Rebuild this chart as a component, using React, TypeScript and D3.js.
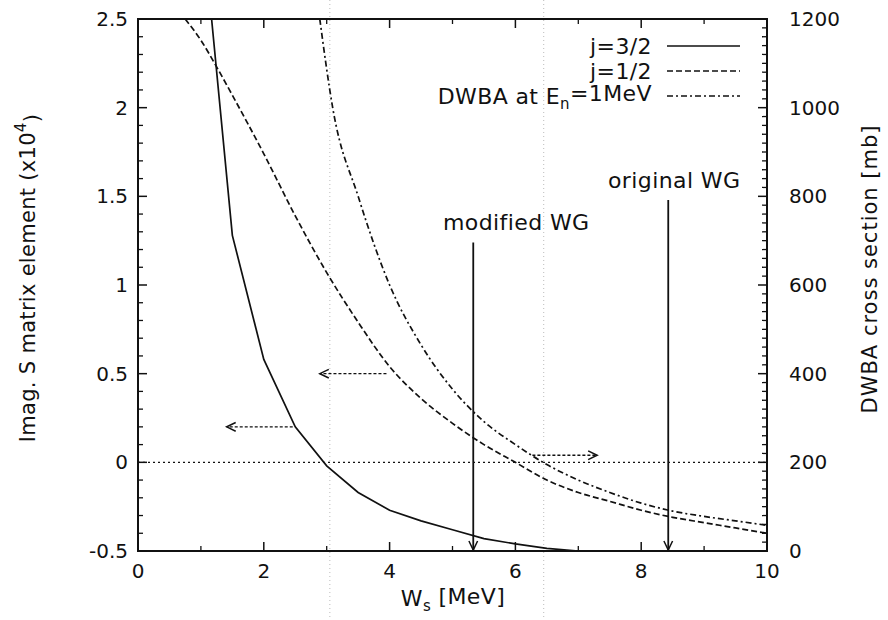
import React from "react";
import * as d3 from "d3";

// ---- Data ----
const xTicks = [0, 2, 4, 6, 8, 10];
const leftTicks = [-0.5, 0, 0.5, 1, 1.5, 2, 2.5];
const leftTickLabels = ["-0.5", "0", "0.5", "1", "1.5", "2", "2.5"];
const rightTicks = [0, 200, 400, 600, 800, 1000, 1200];

// j=3/2 (solid), Imag. S matrix element (x10^4)
const j32X = [1.17, 1.5, 2.0, 2.5, 3.0, 3.5, 4.0, 4.5, 5.0, 5.5, 6.0, 6.5, 7.0];
const j32Y = [2.5, 1.28, 0.58, 0.2, -0.02, -0.17, -0.27, -0.33, -0.38, -0.43, -0.46, -0.485, -0.5];

// j=1/2 (dashed)
const j12X = [0.75, 1.0, 1.25, 1.5, 2.0, 2.5, 3.0, 3.5, 4.0, 4.5, 5.0, 5.5, 6.0, 6.5, 7.0, 7.5, 8.0, 8.5, 9.0, 9.5, 10.0];
const j12Y = [2.5, 2.38, 2.23, 2.07, 1.74, 1.39, 1.07, 0.79, 0.54, 0.36, 0.22, 0.1, 0.0, -0.1, -0.17, -0.22, -0.27, -0.31, -0.34, -0.37, -0.4];

// DWBA at En=1MeV (dash-dot), cross section [mb], right axis
const dwbaX = [2.89, 3.1, 3.5, 4.0, 4.5, 5.0, 5.5, 6.0, 6.5, 7.0, 7.5, 8.0, 8.5, 9.0, 9.5, 10.0];
const dwbaY = [1200, 996, 800, 600, 465, 365, 292, 240, 195, 160, 132, 108, 90, 78, 68, 58];

const legendLabels = ["j=3/2", "j=1/2", "DWBA at E_n=1MeV"];

const wgNames = ["modified WG", "original WG"];
const wgX = [5.33, 8.43];
const wgTop = [1.24, 1.48];

const hArrowFrom = [2.46, 3.95, 6.27];
const hArrowTo = [1.41, 2.89, 7.3];
const hArrowY = [0.2, 0.5, 0.04];

// ---- Layout ----
const W = 888, H = 620;
const L = 138, R = 767, T = 19, B = 551;
const FONT = "'DejaVu Sans', Verdana, sans-serif";

export default function App() {
  const x = d3.scaleLinear().domain([0, 10]).range([L, R]);
  const yL = d3.scaleLinear().domain([-0.5, 2.5]).range([B, T]);
  const yR = d3.scaleLinear().domain([0, 1200]).range([B, T]);

  const lineL = d3.line<[number, number]>().x(d => x(d[0])).y(d => yL(d[1]));
  const lineLs = d3.line<[number, number]>().x(d => x(d[0])).y(d => yL(d[1])).curve(d3.curveMonotoneX);
  const lineRs = d3.line<[number, number]>().x(d => x(d[0])).y(d => yR(d[1])).curve(d3.curveMonotoneX);

  const j32 = j32X.map((v, i) => [v, j32Y[i]] as [number, number]);
  const j12 = j12X.map((v, i) => [v, j12Y[i]] as [number, number]);
  const dw = dwbaX.map((v, i) => [v, dwbaY[i]] as [number, number]);

  const minorX = d3.range(1, 10, 2);
  const minorL = d3.range(-0.4, 2.5, 0.1).filter(v => Math.abs(v * 2 - Math.round(v * 2)) > 1e-6);
  const minorR = d3.range(20, 1200, 20).filter(v => v % 200 !== 0);

  const stroke = "#111";
  const fs = 20;   // tick labels
  const fl = 22;   // labels / legend
  const ls = 0.4;  // letter spacing

  const legendStyles = [
    { dash: "none" },
    { dash: "6,3" },
    { dash: "6,3,2,3" },
  ];

  const arrowHead = (tx: number, ty: number, dx: number, dy: number, key: string) => {
    const len = 10, ang = Math.PI / 7;
    const a = Math.atan2(dy, dx);
    const p1 = [tx - len * Math.cos(a - ang), ty - len * Math.sin(a - ang)];
    const p2 = [tx - len * Math.cos(a + ang), ty - len * Math.sin(a + ang)];
    return (
      <path key={key} d={`M${p1[0]},${p1[1]}L${tx},${ty}L${p2[0]},${p2[1]}`} fill="none" stroke={stroke} strokeWidth={1.5} />
    );
  };

  return (
    <svg width={W} height={H} style={{ position: "absolute", left: 0, top: 0, background: "#fff" }} fontFamily={FONT}>
      <rect x={0} y={0} width={W} height={H} fill="#fff" />
      {/* scan artifacts: faint vertical dotted lines */}
      {[3.05, 6.45].map((v, i) => (
        <line key={"art" + i} x1={x(v)} x2={x(v)} y1={0} y2={H} stroke="#bbb" strokeWidth={1} strokeDasharray="1,3" />
      ))}

      {/* zero line */}
      <line x1={x(0)} x2={x(10)} y1={yL(0)} y2={yL(0)} stroke={stroke} strokeWidth={1.4} strokeDasharray="2,3" />

      {/* frame */}
      <rect x={L} y={T} width={R - L} height={B - T} fill="none" stroke={stroke} strokeWidth={2} />

      {/* x ticks */}
      {xTicks.map(v => (
        <g key={"xt" + v}>
          <line x1={x(v)} x2={x(v)} y1={B} y2={B - 9} stroke={stroke} strokeWidth={1.5} />
          <line x1={x(v)} x2={x(v)} y1={T} y2={T + 9} stroke={stroke} strokeWidth={1.5} />
          <text x={x(v)} y={B + 27} textAnchor="middle" fontSize={fs} fill="#111">{v}</text>
        </g>
      ))}
      {minorX.map(v => (
        <g key={"xm" + v}>
          <line x1={x(v)} x2={x(v)} y1={B} y2={B - 5} stroke={stroke} strokeWidth={1.3} />
          <line x1={x(v)} x2={x(v)} y1={T} y2={T + 5} stroke={stroke} strokeWidth={1.3} />
        </g>
      ))}

      {/* left ticks */}
      {leftTicks.map((v, i) => (
        <g key={"lt" + v}>
          <line x1={L} x2={L + 9} y1={yL(v)} y2={yL(v)} stroke={stroke} strokeWidth={1.5} />
          <text x={L - 10} y={yL(v)} dy="0.35em" textAnchor="end" fontSize={fs} fill="#111">{leftTickLabels[i]}</text>
        </g>
      ))}
      {minorL.map(v => (
        <line key={"lm" + v} x1={L} x2={L + 5} y1={yL(v)} y2={yL(v)} stroke={stroke} strokeWidth={1.3} />
      ))}

      {/* right ticks */}
      {rightTicks.map(v => (
        <g key={"rt" + v}>
          <line x1={R} x2={R - 9} y1={yR(v)} y2={yR(v)} stroke={stroke} strokeWidth={1.5} />
          <text x={R + 22} y={yR(v)} dy="0.35em" textAnchor="start" fontSize={fs} fill="#111">{v}</text>
        </g>
      ))}
      {minorR.map(v => (
        <line key={"rm" + v} x1={R} x2={R - 5} y1={yR(v)} y2={yR(v)} stroke={stroke} strokeWidth={1.3} />
      ))}

      {/* curves */}
      <defs>
        <clipPath id="plot"><rect x={L} y={T} width={R - L} height={B - T} /></clipPath>
      </defs>
      <g clipPath="url(#plot)">
        <path d={lineL(j32) || ""} fill="none" stroke={stroke} strokeWidth={1.7} />
        <path d={lineLs(j12) || ""} fill="none" stroke={stroke} strokeWidth={1.7} strokeDasharray="6,3" />
        <path d={lineRs(dw) || ""} fill="none" stroke={stroke} strokeWidth={1.7} strokeDasharray="6,3,2,3" />
      </g>

      {/* horizontal arrows */}
      {hArrowFrom.map((v, i) => {
        const x1 = x(v), x2 = x(hArrowTo[i]), yy = yL(hArrowY[i]);
        return (
          <g key={"ha" + i}>
            <line x1={x1} x2={x2} y1={yy} y2={yy} stroke={stroke} strokeWidth={1.4} strokeDasharray="3,2" />
            {arrowHead(x2, yy, x2 - x1, 0, "hah" + i)}
          </g>
        );
      })}

      {/* WG arrows */}
      {wgX.map((v, i) => (
        <g key={"wg" + i}>
          <line x1={x(v)} x2={x(v)} y1={yL(wgTop[i])} y2={B} stroke={stroke} strokeWidth={1.8} />
          {arrowHead(x(v), B - 1, 0, 1, "wgh" + i)}
        </g>
      ))}
      <text x={443} y={222} dy="0.35em" fontSize={fl} letterSpacing={ls} fill="#111">{wgNames[0]}</text>
      <text x={608} y={180} dy="0.35em" fontSize={fl} letterSpacing={ls} fill="#111">{wgNames[1]}</text>

      {/* legend */}
      {legendLabels.map((lab, i) => {
        const yy = 46 + i * 25;
        return (
          <g key={"lg" + i}>
            <text x={652} y={yy} dy="0.35em" textAnchor="end" fontSize={fl} letterSpacing={ls} fill="#111">
              {i === 2 ? (
                <>
                  DWBA at E<tspan fontSize={15} dy="0.35em">n</tspan><tspan dy="-0.35em">=1MeV</tspan>
                </>
              ) : lab}
            </text>
            <line x1={667} x2={740} y1={yy} y2={yy} stroke={stroke} strokeWidth={1.4} strokeDasharray={legendStyles[i].dash} />
          </g>
        );
      })}

      {/* axis titles */}
      <text transform={`translate(${28},${278}) rotate(-90)`} textAnchor="middle" fontSize={21} letterSpacing={0.3} fill="#111" dy="0.35em">
        Imag. S matrix element (x10<tspan fontSize={15} dy="-0.6em">4</tspan><tspan dy="0.6em">)</tspan>
      </text>
      <text transform={`translate(${870},${269}) rotate(-90)`} textAnchor="middle" fontSize={21} letterSpacing={1} fill="#111" dy="0.35em">
        DWBA cross section [mb]
      </text>
      <text x={453} y={606} textAnchor="middle" fontSize={fl} letterSpacing={ls} fill="#111">
        W<tspan fontSize={15} dy="0.35em">s</tspan><tspan dy="-0.35em"> [MeV]</tspan>
      </text>
    </svg>
  );
}
